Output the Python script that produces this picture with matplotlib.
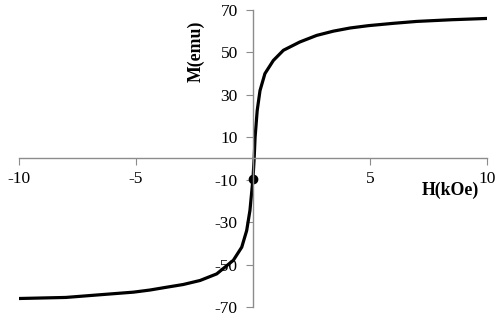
import matplotlib.pyplot as plt

# values
H = [-10, -8, -6.5, -5.1, -4.4, -3.7, -2.98, -2.26, -1.55, -0.84, -0.48, -0.27,
     -0.13, 0, 0.05, 0.09, 0.18, 0.3, 0.51, 0.87, 1.3, 2.0, 2.72, 3.43, 4.15,
     4.93, 6, 7, 8.5, 10]
M = [-66, -65.5, -64.2, -63, -62, -60.7, -59.4, -57.5, -54.4, -48, -41.8, -34,
     -24.5, -9.5, 0, 10, 22.6, 32, 40, 46.2, 51, 54.9, 58, 60, 61.5,
     62.6, 63.7, 64.6, 65.4, 66]
dot_H = [0]
dot_M = [-9.5]
xticks = [-10, -5, 5, 10]
yticks = [-70, -50, -30, -10, 10, 30, 50, 70]

plt.rcParams['font.family'] = ['Liberation Serif', 'DejaVu Serif']
plt.rcParams['axes.unicode_minus'] = False

fig = plt.figure(figsize=(4.98, 3.16), dpi=100)
ax = fig.add_axes([0.038, 0.0285, 0.94, 0.94])

ax.plot(H, M, color='black', lw=2.3, solid_capstyle='round', solid_joinstyle='round')
ax.plot(dot_H, dot_M, 'o', color='black', ms=6)

ax.set_xlim(-10, 10)
ax.set_ylim(-70, 70)
ax.spines['left'].set_position(('data', 0))
ax.spines['bottom'].set_position(('data', 0))
ax.spines['right'].set_visible(False)
ax.spines['top'].set_visible(False)
for s in ['left', 'bottom']:
    ax.spines[s].set_color('#8c8c8c')
    ax.spines[s].set_linewidth(1.0)

ax.set_xticks(xticks)
ax.set_yticks(yticks)
ax.tick_params(colors='#8c8c8c', length=5, labelcolor='black', labelsize=12.5)
ax.tick_params(axis='y', pad=6)
ax.tick_params(axis='x', pad=4)

ax.text(8.45, -15, 'H(kOe)', fontsize=12.8, fontweight='bold', ha='center', va='center')
ax.text(-2.45, 50.5, 'M(emu)', fontsize=12.8, fontweight='bold', rotation=90,
        ha='center', va='center')

fig.savefig('out.png', dpi=100)
